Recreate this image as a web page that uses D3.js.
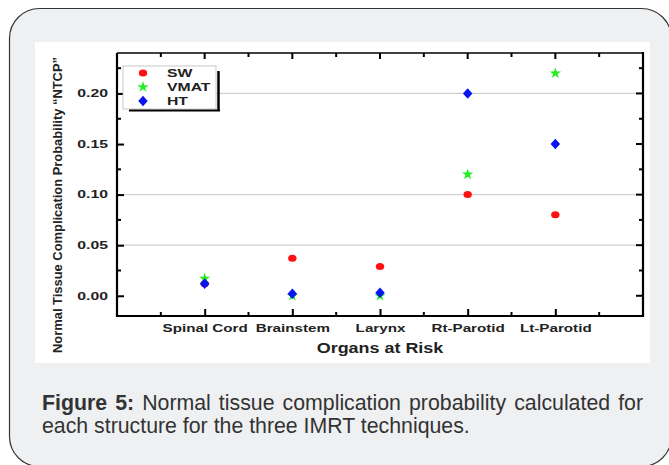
<!DOCTYPE html>
<html><head><meta charset="utf-8">
<script src="https://cdn.jsdelivr.net/npm/d3@7"></script>
<style>html,body{margin:0;padding:0;background:#fff;}svg{display:block;}</style>
</head><body>
<script>
const categories = ["Spinal Cord","Brainstem","Larynx","Rt-Parotid","Lt-Parotid"];
const swValues   = [0.012, 0.037, 0.029, 0.100, 0.080];
const vmatValues = [0.017, 0.000, 0.000, 0.120, 0.220];
const htValues   = [0.012, 0.002, 0.003, 0.200, 0.150];
const yTicks = [0.00, 0.05, 0.10, 0.15, 0.20];
const gridValues = [0.05, 0.10, 0.20];
const seriesNames = ["SW","VMAT","HT"];

const W = 669, H = 465;
const svg = d3.select("body").append("svg").attr("width", W).attr("height", H);

function stretch(sel, factor) {
  sel.each(function () {
    const len = this.getComputedTextLength();
    d3.select(this).attr("textLength", len * factor).attr("lengthAdjust", "spacingAndGlyphs");
  });
}

// outer card
svg.append("rect").attr("x", 9.5).attr("y", 8.5).attr("width", 662).attr("height", 458)
  .attr("rx", 30).attr("ry", 30).attr("fill", "#eff0f2").attr("stroke", "#333").attr("stroke-width", 1.2);
// white panel
svg.append("rect").attr("x", 35).attr("y", 42).attr("width", 615).attr("height", 321).attr("fill", "#fff");

const L = 117, R = 643, T = 53, B = 316;
const x = d3.scaleLinear().domain([0, 6]).range([L, R]);
const y = d3.scaleLinear().domain([-0.02, 0.24]).range([B, T]);

// grid
svg.append("g").selectAll("line").data(gridValues).join("line")
  .attr("x1", L).attr("x2", R).attr("y1", d => y(d)).attr("y2", d => y(d))
  .attr("stroke", "#d0d0d0").attr("stroke-width", 1.2);

const font = "'Liberation Sans', Arial, sans-serif";

const catPos = categories.map((c, i) => i + 1);
const xMinor = d3.range(0.5, 6, 1).concat(catPos);
const xAxisB = d3.axisBottom(x).tickValues(catPos).tickSize(-7).tickFormat((d) => categories[d - 1]).tickPadding(8);
const gB = svg.append("g").attr("transform", `translate(0,${B})`).call(xAxisB);
gB.select(".domain").remove();
gB.selectAll(".tick line").attr("stroke", "#000").attr("stroke-width", 2);
gB.selectAll(".tick text").attr("font-family", font).attr("font-weight", "bold").attr("font-size", 11).attr("fill", "#222")
  .call(stretch, 1.38);
svg.append("g").selectAll("line").data(d3.range(0.5, 6, 1)).join("line")
  .attr("x1", d => x(d)).attr("x2", d => x(d)).attr("y1", B).attr("y2", B - 4)
  .attr("stroke", "#000").attr("stroke-width", 2);
svg.append("g").selectAll("line").data(xMinor).join("line")
  .attr("x1", d => x(d)).attr("x2", d => x(d)).attr("y1", T).attr("y2", d => T + (Number.isInteger(d) ? 6 : 4))
  .attr("stroke", "#000").attr("stroke-width", 2);

const yAxisL = d3.axisLeft(y).tickValues(yTicks).tickSize(-7).tickFormat(d3.format(".2f")).tickPadding(9);
const gL = svg.append("g").attr("transform", `translate(${L},0)`).call(yAxisL);
gL.select(".domain").remove();
gL.selectAll(".tick line").attr("stroke", "#000").attr("stroke-width", 2);
gL.selectAll(".tick text").attr("font-family", font).attr("font-weight", "bold").attr("font-size", 10.5).attr("fill", "#222")
  .call(stretch, 1.5);
const yMinorTicks = [0.025, 0.075, 0.125, 0.175, 0.225];
svg.append("g").selectAll("line").data(yMinorTicks).join("line")
  .attr("x1", L).attr("x2", L + 4).attr("y1", d => y(d)).attr("y2", d => y(d))
  .attr("stroke", "#000").attr("stroke-width", 2);
svg.append("g").selectAll("line").data(yTicks.concat(yMinorTicks)).join("line")
  .attr("x1", R).attr("x2", d => R - (yTicks.includes(d) ? 7 : 4)).attr("y1", d => y(d)).attr("y2", d => y(d))
  .attr("stroke", "#000").attr("stroke-width", 2);

// frame
svg.append("line").attr("x1", L).attr("x2", R).attr("y1", T).attr("y2", T).attr("stroke", "#000").attr("stroke-width", 1.5);
svg.append("line").attr("x1", L).attr("x2", R + 1).attr("y1", B).attr("y2", B).attr("stroke", "#000").attr("stroke-width", 2.2);
svg.append("line").attr("x1", L).attr("x2", L).attr("y1", T).attr("y2", B + 1).attr("stroke", "#000").attr("stroke-width", 2.2);
svg.append("line").attr("x1", R).attr("x2", R).attr("y1", T - 1).attr("y2", B + 1).attr("stroke", "#000").attr("stroke-width", 2.2);

// axis titles
svg.append("text").attr("x", (L + R) / 2).attr("y", 353).attr("text-anchor", "middle")
  .attr("font-family", font).attr("font-weight", "bold").attr("font-size", 14).attr("fill", "#222")
  .text("Organs at Risk").call(stretch, 1.28);
svg.append("text").attr("transform", `translate(62,205) rotate(-90)`).attr("text-anchor", "middle")
  .attr("font-family", font).attr("font-weight", "bold").attr("font-size", 12.5).attr("fill", "#222")
  .attr("textLength", 296).attr("lengthAdjust", "spacingAndGlyphs")
  .text("Normal Tissue Complication Probability \u201CNTCP\u201D");

// markers
const symStar = d3.symbol().type(d3.symbolStar).size(40);
const symDiamond = d3.symbol().type(d3.symbolDiamond).size(50);
function drawSW(g, cx, cy) {
  g.append("ellipse").attr("cx", cx).attr("cy", cy).attr("rx", 4.2).attr("ry", 3.5).attr("fill", "#ff1010");
}
function drawVMAT(g, cx, cy) {
  g.append("path").attr("d", symStar).attr("transform", `translate(${cx},${cy})`).attr("fill", "#22ee22");
}
function drawHT(g, cx, cy) {
  g.append("path").attr("d", symDiamond).attr("transform", `translate(${cx},${cy}) scale(1.25,0.8)`).attr("fill", "#0a14f0");
}
const gm = svg.append("g");
categories.forEach((c, i) => drawSW(gm, x(i + 1), y(swValues[i])));
categories.forEach((c, i) => drawVMAT(gm, x(i + 1), y(vmatValues[i])));
categories.forEach((c, i) => drawHT(gm, x(i + 1), y(htValues[i])));

// legend
const lg = svg.append("g");
lg.append("rect").attr("x", 123).attr("y", 66).attr("width", 93).attr("height", 43)
  .attr("fill", "#fff").attr("stroke", "#bbb").attr("stroke-width", 0.8);
lg.append("line").attr("x1", 129).attr("x2", 220).attr("y1", 110.5).attr("y2", 110.5).attr("stroke", "#000").attr("stroke-width", 2);
lg.append("line").attr("x1", 218.5).attr("x2", 218.5).attr("y1", 71).attr("y2", 111).attr("stroke", "#000").attr("stroke-width", 2.5);
const legY = [73, 87, 101];
drawSW(lg, 143, legY[0]);
drawVMAT(lg, 143, legY[1]);
drawHT(lg, 143, legY[2]);
seriesNames.forEach((n, i) => {
  lg.append("text").attr("x", 167).attr("y", legY[i] + 4).attr("font-family", font).attr("font-weight", "bold")
    .attr("font-size", 10.5).attr("fill", "#222").text(n).call(stretch, 1.5);
});

// caption (line 1 justified by word spacing)
const capSize = 21.3;
const cap1 = svg.append("text").attr("x", 42).attr("y", 410).attr("font-family", font).attr("font-size", capSize)
  .attr("fill", "#333");
cap1.append("tspan").attr("font-weight", "bold").text("Figure 5:");
cap1.append("tspan").text(" Normal tissue complication probability calculated for");
const natural = cap1.node().getComputedTextLength();
const nSpaces = 7;
if (natural < 601) cap1.attr("word-spacing", (601 - natural) / nSpaces);
else cap1.attr("textLength", 601).attr("lengthAdjust", "spacingAndGlyphs");
svg.append("text").attr("x", 42).attr("y", 433).attr("font-family", font).attr("font-size", capSize)
  .attr("fill", "#333").text("each structure for the three IMRT techniques.");
</script>
</body></html>
